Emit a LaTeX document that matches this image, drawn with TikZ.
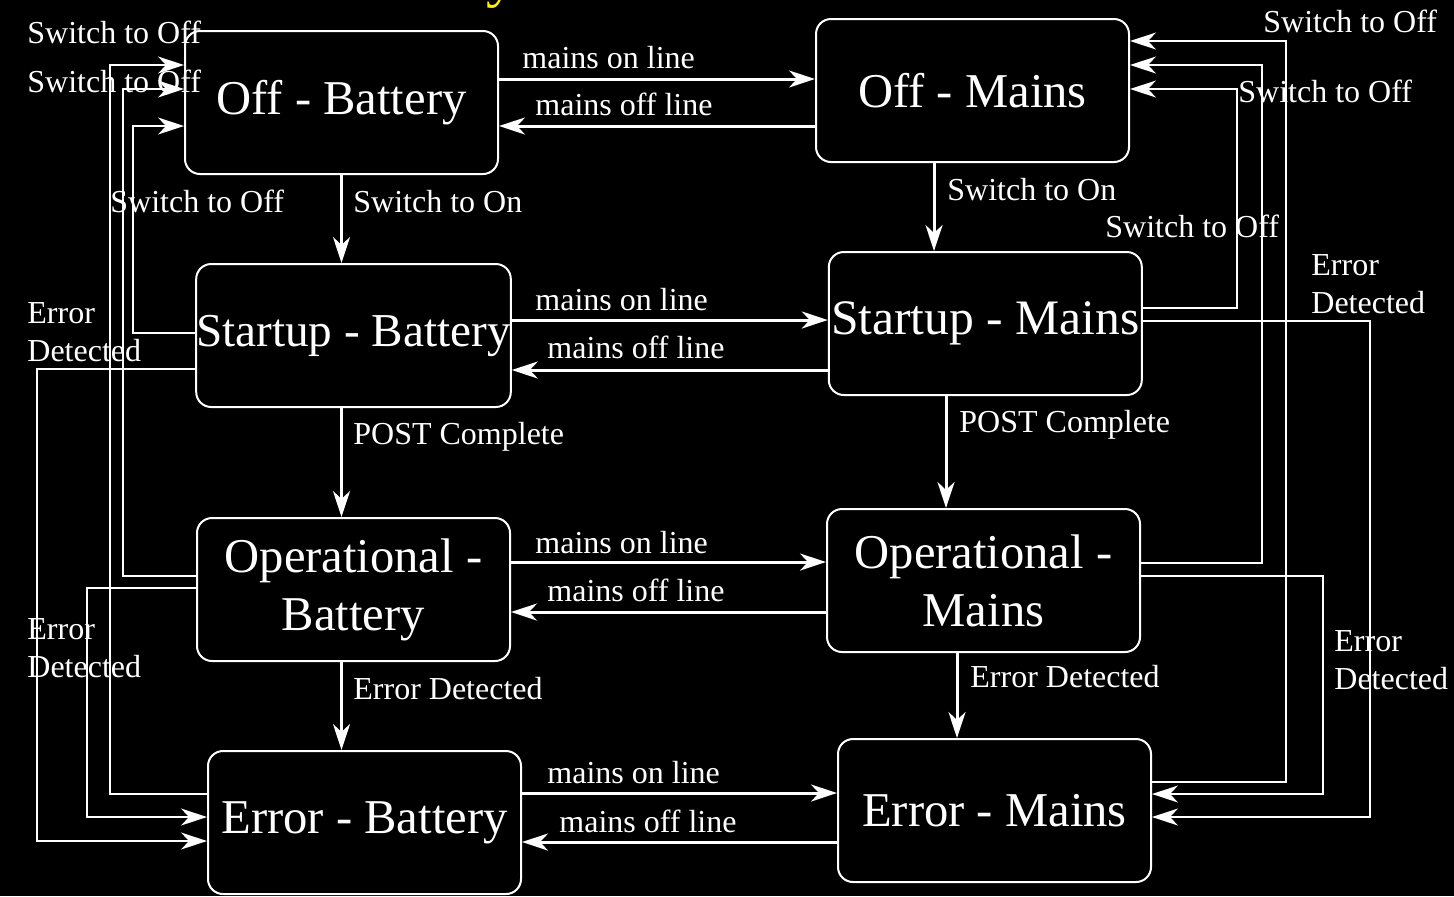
\documentclass[tikz,border=0pt]{standalone}
\usepackage{fontspec}
\setmainfont{Liberation Serif}
\usetikzlibrary{positioning, arrows.meta}

\begin{document}
\begin{tikzpicture}[->, >={Stealth[length=13pt, width=8.5pt, inset=4pt]},
  x=0.5pt, y=-0.5pt,
  statebox/.style={draw=white, fill=black, text=white, line width=1pt, rounded corners=7.5pt,
    minimum width=156.5pt, minimum height=71.5pt, inner sep=0pt, align=center,
    font=\fontsize{24.3}{29}\selectfont},
  trans/.style={draw=white, line width=1.5pt},
  wire/.style={draw=white, line width=0.8pt},
  lbl/.style={text=white, inner sep=0pt, anchor=base west, font=\fontsize{16}{19}\selectfont}]

\fill[black, -] (0,0) rectangle (1454,896);
\useasboundingbox (0,0) rectangle (1454,896);

\node[text=yellow, anchor=base, font=\fontsize{30}{30}\selectfont] (title) at (501,-5) {y};

\node[statebox] (OffB) at (341.5,102.5) {Off - Battery};
\node[statebox, below = 44pt of OffB, xshift=6pt, font=\fontsize{23.6}{29}\selectfont] (StB) {Startup - Battery};
\node[statebox, below = 54.5pt of StB] (OpB) {Operational -\\Battery};
\node[statebox, below = 44pt of OpB, xshift=5.5pt] (ErB) {Error - Battery};
\node[statebox, right = 158pt of OffB, yshift=6pt] (OffM) {Off - Mains};
\node[statebox, right = 158pt of StB, yshift=6pt, font=\fontsize{24.8}{29}\selectfont] (StM) {Startup - Mains};
\node[statebox, right = 157.5pt of OpB, yshift=4.5pt] (OpM) {Operational -\\Mains};
\node[statebox, right = 157.5pt of ErB, yshift=6pt] (ErM) {Error - Mains};

% mains on / off line
\draw[trans] (OffB.east |- 0,79) -- (OffM.west |- 0,79);
\draw[trans] (OffM.west |- 0,126) -- (OffB.east |- 0,126);
\draw[trans] (StB.east |- 0,320) -- (StM.west |- 0,320);
\draw[trans] (StM.west |- 0,370) -- (StB.east |- 0,370);
\draw[trans] (OpB.east |- 0,562) -- (OpM.west |- 0,562);
\draw[trans] (OpM.west |- 0,612) -- (OpB.east |- 0,612);
\draw[trans] (ErB.east |- 0,793) -- (ErM.west |- 0,793);
\draw[trans] (ErM.west |- 0,842) -- (ErB.east |- 0,842);

% down the columns
\draw[trans] (OffB.south) -- (OffB.south |- StB.north);
\draw[trans] (StB.south -| OffB.south) -- (OpB.north -| OffB.south);
\draw[trans] (OpB.south -| OffB.south) -- (ErB.north -| OffB.south);
\draw[trans] (OffM.south -| 934,0) -- (StM.north -| 934,0);
\draw[trans] (StM.south -| 946,0) -- (OpM.north -| 946,0);
\draw[trans] (OpM.south -| 957,0) -- (ErM.north -| 957,0);

% back to off, left side
\draw[wire] (ErB.west |- 0,794) -| (110,65) -- (OffB.west |- 0,65);
\draw[wire] (OpB.west |- 0,576) -| (123,89) -- (OffB.west |- 0,89);
\draw[wire] (StB.west |- 0,333) -| (133,126) -- (OffB.west |- 0,126);
\draw[wire] (StB.west |- 0,369) -| (37,841) -- (ErB.west |- 0,841);
\draw[wire] (OpB.west |- 0,588) -| (87,817) -- (ErB.west |- 0,817);

% back to off, right side
\draw[wire] (ErM.east |- 0,782) -| (1286,41) -- (OffM.east |- 0,41);
\draw[wire] (OpM.east |- 0,563) -| (1262,65) -- (OffM.east |- 0,65);
\draw[wire] (StM.east |- 0,308) -| (1237,89) -- (OffM.east |- 0,89);
\draw[wire] (OpM.east |- 0,576) -| (1323,794) -- (ErM.east |- 0,794);
\draw[wire] (StM.east |- 0,321) -| (1370,817) -- (ErM.east |- 0,817);

\node[lbl] (l1) at (522,68) {mains on line};
\node[lbl] (l2) at (535,115) {mains off line};
\node[lbl] (l3) at (535,310) {mains on line};
\node[lbl] (l4) at (547,358) {mains off line};
\node[lbl] (l5) at (535,553) {mains on line};
\node[lbl] (l6) at (547,601) {mains off line};
\node[lbl] (l7) at (547,783) {mains on line};
\node[lbl] (l8) at (559,832) {mains off line};
\node[lbl] (l9) at (353,212) {Switch to On};
\node[lbl] (l10) at (947,200) {Switch to On};
\node[lbl] (l11) at (353,444) {POST Complete};
\node[lbl] (l12) at (959,432) {POST Complete};
\node[lbl] (l13) at (353,699) {Error Detected};
\node[lbl] (l14) at (970,687) {Error Detected};
\node[lbl] (l15) at (27,43) {Switch to Off};
\node[lbl] (l16) at (27,92) {Switch to Off};
\node[lbl] (l17) at (110,212) {Switch to Off};
\node[lbl] (l18) at (1263,32) {Switch to Off};
\node[lbl] (l19) at (1238,102) {Switch to Off};
\node[lbl] (l20) at (1105,237) {Switch to Off};
\node[lbl, anchor=west, align=left] (l21) at (27,332) {Error\\Detected};
\node[lbl, anchor=west, align=left] (l22) at (27,648) {Error\\Detected};
\node[lbl, anchor=west, align=left] (l23) at (1311,284) {Error\\Detected};
\node[lbl, anchor=west, align=left] (l24) at (1334,660) {Error\\Detected};
\end{tikzpicture}
\end{document}
